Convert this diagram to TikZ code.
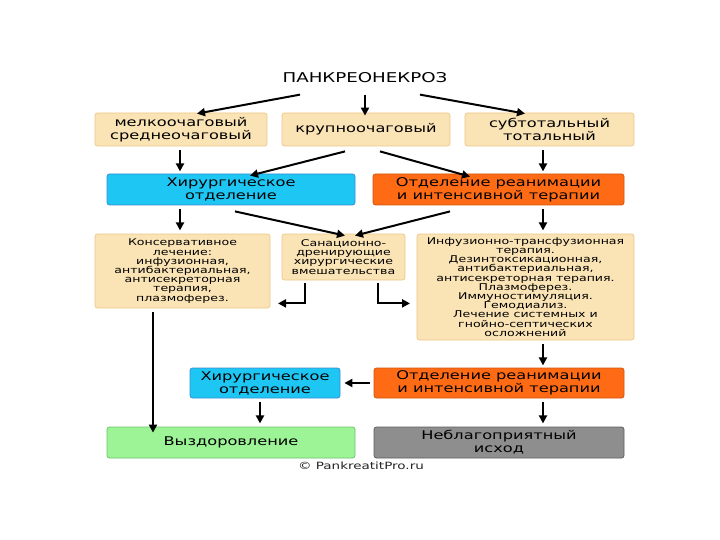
\documentclass[tikz,border=0pt]{standalone}
\usepackage{fontspec}
\setmainfont[FakeStretch=1.35]{DejaVu Sans}
\usetikzlibrary{arrows.meta}
\definecolor{peach}{HTML}{FAE3B4}
\definecolor{peachb}{HTML}{EDC98C}
\definecolor{cyanb}{HTML}{1EC6F4}
\definecolor{cyand}{HTML}{3A8FD0}
\definecolor{orng}{HTML}{FF6B14}
\definecolor{orngd}{HTML}{D0560E}
\definecolor{lgreen}{HTML}{9CF496}
\definecolor{lgreend}{HTML}{6CC46A}
\definecolor{gry}{HTML}{8E8E8E}
\definecolor{gryd}{HTML}{5E5E5E}
\begin{document}
\begin{tikzpicture}[x=1pt,y=-1pt,
  bx/.style={rounded corners=2.5pt, align=center, inner sep=0pt, line width=0.8pt,
    font=\fontsize{12}{13}\selectfont},
  sbx/.style={bx, font=\fontsize{9.3}{9.2}\selectfont},
  pe/.style={fill=peach, draw=peachb},
  bl/.style={fill=cyanb, draw=cyand},
  orr/.style={fill=orng, draw=orngd},
  gr/.style={fill=lgreen, draw=lgreend},
  gy/.style={fill=gry, draw=gryd},
  arr/.style={line width=2pt, -{Triangle[length=8pt,width=8pt]}},
  earr/.style={line width=2pt, -{Triangle[length=8pt,width=8pt]}, rounded corners=0pt}
]
\useasboundingbox[fill=white] (0,0) rectangle (720,540);

\node[font=\fontsize{13.5}{14}\selectfont] (title) at (365,78) {ПАНКРЕОНЕКРОЗ};

\node[bx,pe,minimum width=172,minimum height=33] (A) at (181,129.5) {мелкоочаговый\\среднеочаговый};
\node[bx,pe,minimum width=168,minimum height=33] (B) at (366,129.5) {крупноочаговый};
\node[bx,pe,minimum width=169,minimum height=33] (C) at (549.5,129.5) {субтотальный\\тотальный};

\node[bx,bl,minimum width=248,minimum height=31] (S1) at (231,189.5) {Хирургическое\\отделение};
\node[bx,orr,minimum width=251,minimum height=31] (R1) at (498.5,189.5) {Отделение реанимации\\и интенсивной терапии};

\node[sbx,pe,minimum width=175,minimum height=74] (D) at (182.5,271) {Консервативное\\лечение:\\инфузионная,\\антибактериальная,\\антисекреторная\\терапия,\\плазмоферез.};
\node[sbx,pe,minimum width=123,minimum height=46] (E) at (343.5,257) {Санационно-\\дренирующие\\хирургические\\вмешательства};
\node[sbx,pe,minimum width=217,minimum height=106] (F) at (525.5,287) {Инфузионно-трансфузионная\\терапия.\\Дезинтоксикационная,\\антибактериальная,\\антисекреторная терапия.\\Плазмоферез.\\Иммуностимуляция.\\Гемодиализ.\\Лечение системных и\\гнойно-септических\\осложнений};

\node[bx,bl,minimum width=150,minimum height=30] (S2) at (265,383) {Хирургическое\\отделение};
\node[bx,orr,minimum width=250,minimum height=30] (R2) at (499,383) {Отделение реанимации\\и интенсивной терапии};

\node[bx,gr,minimum width=248,minimum height=31] (G) at (231,442.5) {Выздоровление};
\node[bx,gy,minimum width=250,minimum height=31] (U) at (499,442.5) {Неблагоприятный\\исход};

\node[font=\fontsize{10}{10}\selectfont, text=black!85] (copy) at (361,466) {© PankreatitPro.ru};

% arrows from title
\draw[arr] ([xshift=-65,yshift=-8]title.south) -- ([xshift=16,yshift=-1]A.north);
\draw[arr] ([yshift=-8]title.south) -- ([xshift=-1,yshift=-3]B.north);
\draw[arr] ([xshift=55,yshift=-8]title.south) -- ([xshift=-24.5,yshift=-1]C.north);

% row1 -> row2
\draw[arr] ([xshift=-1,yshift=-4]A.south) -- ++(0,21);
\draw[arr] ([xshift=-21,yshift=-5]B.south) -- ([xshift=19,yshift=-2]S1.north);
\draw[arr] ([xshift=14,yshift=-5]B.south) -- ([xshift=-28.5,yshift=-3]R1.north);
\draw[arr] ([xshift=-6.5,yshift=-4]C.south) -- ++(0,21);

% row2 -> row3
\draw[arr] ([xshift=-51,yshift=-4]S1.south) -- ++(0,21);
\draw[arr] ([xshift=4,yshift=-6]S1.south) -- ([xshift=1.5,yshift=-2]E.north);
\draw[arr] ([xshift=-48.5,yshift=-6]R1.south) -- ([xshift=11.5,yshift=-2]E.north);
\draw[arr] ([xshift=44.5,yshift=-4]R1.south) -- ++(0,21);

% elbows from E
\draw[earr] ([xshift=-38.5,yshift=-3]E.south) -- ++(0,20) -- ++(-27,0);
\draw[earr] ([xshift=34.5,yshift=-3]E.south) -- ++(0,20) -- ++(32,0);

% long arrow D -> G
\draw[arr] ([xshift=-29.5,yshift=-4]D.south) -- ([xshift=-78,yshift=-6]G.north);

% F -> R2
\draw[arr] ([xshift=17.5,yshift=-4]F.south) -- ++(0,21);

% R2 -> S2
\draw[arr] ([xshift=-4]R2.west) -- ([xshift=4]S2.east);

% row4 -> row5
\draw[arr] ([xshift=-5,yshift=-4]S2.south) -- ++(0,21);
\draw[arr] ([xshift=44,yshift=-4]R2.south) -- ++(0,21);
\end{tikzpicture}
\end{document}
